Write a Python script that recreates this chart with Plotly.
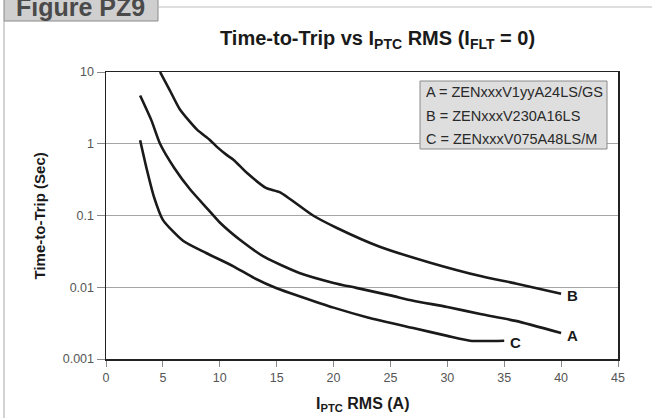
import math
import plotly.graph_objects as go

# Data
I_A = [3, 4, 4.75, 6, 7.4, 9, 10, 12, 14, 17, 20, 22, 25, 27, 30, 33, 36, 40]
t_A = [4.7, 2.1, 1.0, 0.46, 0.23, 0.12, 0.08, 0.043, 0.026, 0.0158, 0.0115,
       0.0098, 0.0077, 0.0065, 0.0053, 0.0042, 0.0034, 0.0023]

I_B = [4.75, 5.6, 6.5, 8, 9.1, 9.7, 10.6, 11.2, 12.4, 14.1, 15.3, 18.2, 20.3,
       24, 28.5, 33, 36, 40]
t_B = [10, 5.6, 3.0, 1.57, 1.14, 0.92, 0.70, 0.60, 0.39, 0.24, 0.21, 0.10,
       0.067, 0.037, 0.022, 0.0142, 0.0113, 0.0081]

I_C = [3, 3.6, 4.2, 5, 6.8, 8.8, 11.2, 13, 15, 17, 20, 23, 27, 30, 32, 35]
t_C = [1.12, 0.43, 0.185, 0.087, 0.044, 0.030, 0.0196, 0.0135, 0.0097, 0.0075,
       0.0052, 0.0038, 0.0027, 0.0021, 0.0018, 0.0018]

series = [("A", I_A, t_A), ("B", I_B, t_B), ("C", I_C, t_C)]

legend_lines = ["A = ZENxxxV1yyA24LS/GS",
                "B = ZENxxxV230A16LS",
                "C = ZENxxxV075A48LS/M"]

y_tickvals = [0.001, 0.01, 0.1, 1, 10]
y_ticktext = ["0.001", "0.01", "0.1", "1", "10"]

FONT = "Liberation Sans, Arial, Helvetica, sans-serif"

fig = go.Figure()
for name, xs, ys in series:
    fig.add_trace(go.Scatter(x=xs, y=ys, mode="lines", name=name,
                             line=dict(color="#1a1a1a", width=2.6, shape="spline", smoothing=0.6),
                             showlegend=False, hoverinfo="skip"))

W, H = 652, 418
L, R, T, B = 106, 34, 72, 59
pw, ph = W - L - R, H - T - B


def px(xp):
    return (xp - L) / pw


def py(yp):
    return (H - B - yp) / ph


annotations = []
# curve end labels
for name, xs, ys in series:
    annotations.append(dict(x=xs[-1], y=math.log10(ys[-1]), xref="x", yref="y",
                            text="<b>%s</b>" % name, showarrow=False,
                            xanchor="left", yanchor="middle", xshift=4, yshift=-2,
                            font=dict(family=FONT, size=15, color="#1a1a1a")))

# title
annotations.append(dict(x=px(377), y=py(39), xref="paper", yref="paper",
                        text="<b>Time-to-Trip vs I<sub>PTC</sub> RMS (I<sub>FLT</sub> = 0)</b>",
                        showarrow=False, xanchor="center", yanchor="middle",
                        font=dict(family=FONT, size=20, color="#1a1a1a")))
# axis titles
annotations.append(dict(x=px(38.5), y=py(216), xref="paper", yref="paper",
                        text="<b>Time-to-Trip (Sec)</b>", textangle=-90,
                        showarrow=False, xanchor="center", yanchor="middle",
                        font=dict(family=FONT, size=15, color="#1a1a1a")))
annotations.append(dict(x=px(362), y=py(404), xref="paper", yref="paper",
                        text="<b>I<sub>PTC</sub> RMS (A)</b>",
                        showarrow=False, xanchor="center", yanchor="middle",
                        font=dict(family=FONT, size=16, color="#1a1a1a")))
# figure header
annotations.append(dict(x=px(80), y=py(7.5), xref="paper", yref="paper",
                        text="<b>Figure PZ9</b>", showarrow=False,
                        xanchor="center", yanchor="middle",
                        font=dict(family=FONT, size=25, color="#4a4a4a")))
# legend box texts
for i, txt in enumerate(legend_lines):
    annotations.append(dict(x=px(424), y=py(92 + 23.5 * i), xref="paper", yref="paper",
                            text=txt, showarrow=False, xanchor="left", yanchor="middle",
                            font=dict(family=FONT, size=14.5, color="#2a2a2a")))

shapes = [
    # header box
    dict(type="rect", xref="paper", yref="paper", x0=px(4), x1=px(158), y0=py(21), y1=py(-2),
         fillcolor="#cfcfcf", line=dict(color="#8a8a8a", width=1), layer="below"),
    dict(type="line", xref="paper", yref="paper", x0=px(158), x1=px(652), y0=py(7), y1=py(7),
         line=dict(color="#bdbdbd", width=1)),
    dict(type="line", xref="paper", yref="paper", x0=px(4), x1=px(4), y0=py(21), y1=py(420),
         line=dict(color="#a8a8a8", width=1)),
    # legend box
    dict(type="rect", xref="paper", yref="paper", x0=px(420), x1=px(607), y0=py(149), y1=py(81),
         fillcolor="#dedede", line=dict(color="#8a8a8a", width=1), layer="above"),
]

fig.update_layout(
    width=W, height=H,
    margin=dict(l=L, r=R, t=T, b=B, pad=0),
    paper_bgcolor="white", plot_bgcolor="white",
    font=dict(family=FONT, color="#555555", size=12),
    xaxis=dict(range=[0, 45], dtick=5, tick0=0, showgrid=False, zeroline=False,
               showline=True, linecolor="#222222", linewidth=1.5, mirror=True,
               ticks="outside", ticklen=6, tickcolor="#888888", tickwidth=1,
               tickfont=dict(family=FONT, size=12.5, color="#555555")),
    yaxis=dict(type="log", range=[-3, 1], tickvals=y_tickvals, ticktext=y_ticktext,
               showgrid=True, gridcolor="#a6a6a6", gridwidth=1, zeroline=False,
               showline=True, linecolor="#222222", linewidth=1.5, mirror=True,
               ticks="outside", ticklen=8, tickcolor="#888888", tickwidth=1,
               tickfont=dict(family=FONT, size=12.5, color="#555555")),
    annotations=annotations,
    shapes=shapes,
)

fig.write_html("out.html",
               config={"displayModeBar": False, "staticPlot": True},
               post_script="document.body.style.margin='0';document.body.style.overflow='hidden';")
